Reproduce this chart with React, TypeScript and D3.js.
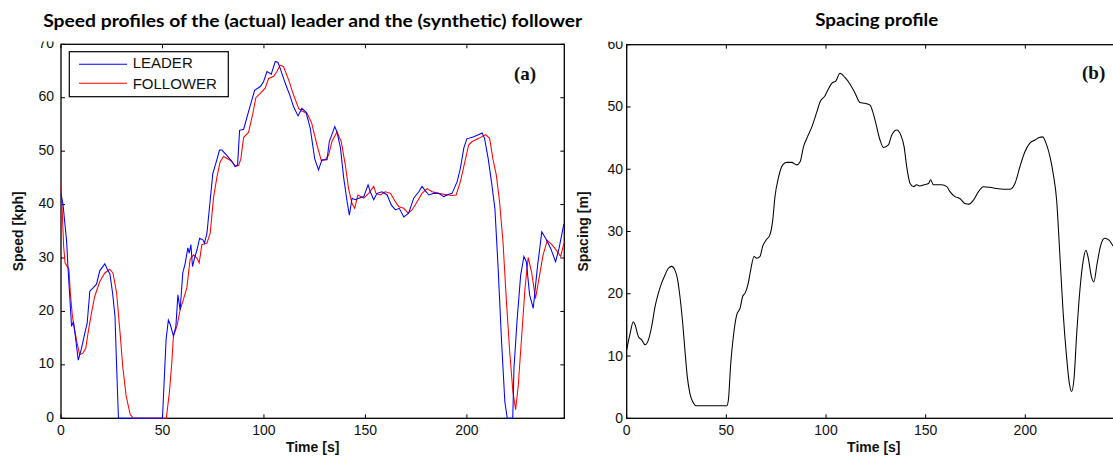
import React from "react";
import * as d3 from "d3";

const leaderTime = [0,1,2.8,3.4,4.3,5.2,6.1,6.9,7.7,8.5,10.1,11.7,12.9,14.2,15.8,17.5,19.1,21.6,22.8,24.1,25.4,26.6,27.4,28.3,50,50.8,51.8,52.9,53.8,55.4,56.6,57.6,58.7,60,61.2,62.5,63.2,64,64.8,65.8,67,68.3,69.9,70.7,71.9,73.5,74.8,76.5,78.1,79.3,81.7,84.2,85.8,87,88,90,92.4,95.4,98.2,99.8,101.5,103.6,105.6,106.9,108,110.5,113,114.6,116.8,118.7,120.7,122.8,125,126.9,128.6,131.1,132.2,134.9,136,137.7,139.3,141,142.1,143.4,145,146.7,149.2,151.3,152.4,154.1,155.7,158.2,160.7,162.8,164.8,166.7,168.9,171.3,173.8,176.3,177.9,179.3,181.2,183.7,186.1,188.6,190.8,192.7,195.2,196.8,198.5,200,203.4,205.9,207.5,208.7,210.5,212.1,213.8,215.4,217.1,218.7,219.9,222.6,223.2,224.8,226.5,228.1,229.3,230.9,232.7,234.7,236.9,238.8,241.3,243.7,245.4,247.8];
const leaderSpeed = [42,40,33,28.5,22.9,17.2,18.1,15.9,13.4,10.9,13.1,15.9,17.8,23.8,24.4,25.1,27.6,28.9,27.9,27,23.5,19.1,9.8,0,0,6.7,14.8,18.4,17.6,15.4,17.2,23.1,20.3,27.2,29,31.9,30.9,32.5,28.4,30,31.5,33.7,33.4,32.8,34.6,40.8,45.8,48,50.2,50.2,49.2,48.1,47.1,47.3,53.9,54.1,57.4,61.4,62.1,63,64.9,64.4,66.8,66.6,65.5,62.7,60.2,58.3,56.6,58,57.3,54.3,48.6,46.5,48.4,48.4,51.8,54.6,53.6,50.6,45,40.5,38,41.2,40.9,41.2,41.5,43.7,42.4,40.9,42.1,42.4,41.8,39.9,39,39.3,37.7,38.4,41.2,42.4,43.4,42.7,41.8,42.1,42.1,41.5,41.9,42.1,44.3,46.8,50.6,52.3,52.7,53.1,53.4,52.4,48.6,44.3,39.3,28.1,14.3,3.1,0,0,9.4,18.7,26.8,30.3,29.3,23.1,20.6,28.1,34.9,33.7,31.8,29.3,31.8,36.4];

const followerTime = [0,0.7,1.3,2,3.4,3.9,4.6,5.6,6.7,7.9,9.2,10.8,12.2,13.3,15,16.6,19.1,21.6,24,25.6,27.4,29.1,30.4,32.1,34.1,35.7,51.8,52.1,53.4,54.6,55.4,57.1,58.7,60.3,62,63.6,65.3,67,68.1,69.4,71.9,73.5,75.2,76.8,78.4,80.1,83.4,85.8,87.5,88.6,90,92.4,94.5,96,98.2,100.6,102.3,104.8,106.4,108,109.7,112.2,114.6,117.1,118.7,121.2,123.5,126.1,128.3,130.2,131.9,133.5,136,138.1,140.1,141.7,143.4,144.7,146.3,149.2,151.6,154.1,155.2,157.4,159.8,162.4,164.8,166.5,168.9,171,173,175.4,177.9,180.4,182.9,186.1,189.4,192.7,194.7,196.8,199,200.9,202.6,205.9,209.2,211.2,212.8,214.5,216.1,217.8,219.4,221.1,222.7,224,225.3,227,228.6,230.2,231.9,233.8,235.5,237.5,239.6,242.1,244.6,246.2,248];
const followerSpeed = [43.5,37.8,32.2,29.1,28.2,27.9,23.5,19.2,16.6,14.1,11.9,12.2,13.1,15.9,19.7,22.8,25.6,27.2,27.9,27.2,23.5,16,9.8,4.2,0.7,0,0,0.7,4.8,10.4,15.4,17.2,20.3,22.2,24.4,29.7,30.6,30,29.1,32.5,32.8,34.6,41.4,45.1,48,49,48.3,47.3,47.3,48.5,52.6,53.5,57,60,60.8,61.8,63.6,64,64.9,66.1,65.8,63.3,60.5,58,57.5,57.1,55.3,51.2,48.2,48.4,49.3,51.8,53.6,51.8,47.4,43,40.2,39.3,41.8,41.2,42.1,43.4,42.1,41.8,42.4,42.1,40.5,39.6,39.3,38.4,39,40.5,42.1,43,42.4,42.1,41.9,41.7,41.8,44.3,48,51.2,51.8,52.4,53.1,52.4,48.6,45.5,40.5,33,22.4,12.4,4.9,1.6,6.1,15.4,24.2,30.1,27.3,22.4,26.1,30.5,33.3,32.4,31.2,30.3,33];

const spacingTime = [0,1.7,3.3,4.2,5.9,7.5,9.2,10.9,12.5,14.2,15.9,17.5,19.2,20.9,22.6,24.2,25.4,26.7,28.1,29.2,30.4,31.7,33.4,35,50.2,51,52.2,53.5,55.2,56.9,58.2,59.4,61,62.2,63.9,65.2,66.9,68.2,69.9,71.9,73.3,74.4,76.1,78.3,80.3,82.8,85.3,87,88.7,90.7,92.9,95.4,97,99.5,101.2,102.9,105,107,109.6,112,114.6,117.1,119.6,122.1,124.6,127.1,128.8,131.3,133,135.5,137.5,139.2,140.5,142.2,143.9,145.5,147.2,149.2,151.4,152.5,153.9,155.9,158,160.6,162.2,164.7,167.2,169.7,171.9,173.9,176.5,179,182.3,185.9,189,192.4,194.8,197.3,199.8,202.3,204.9,207,208.7,210.7,212.4,214,215.7,217.4,219,220.7,222.1,223.2,224.4,225.7,227.4,229.1,230.4,231.5,233.2,234.4,236,237.7,239.8,242,243.8,246,248];
const spacingValue = [11,13.6,15.5,15,13.1,12.6,11.8,12.6,14.7,17.9,20.1,21.7,23,24.1,24.4,23.8,22.5,19.6,15.3,11,6.7,4,2.5,2,2,2.9,8.8,13.1,16.6,17.7,19.6,20.1,21.7,23.8,26,25.7,26,27.6,28.6,29.5,31.9,35.6,38.6,40.7,41.1,41.1,40.7,41.2,43.6,45.2,46.8,49.2,50.8,51.8,52.9,53.8,54.2,55.4,54.7,53.7,52.2,50.7,50.6,50.3,47.9,44.7,43.5,43.9,45.5,46.3,45.5,43.6,40.4,37.7,37.2,37.5,37.3,37.5,37.7,38.3,37.5,37.5,37.5,37.2,36.4,35.6,35.3,34.5,34.4,35,36.4,37.2,37.1,36.9,36.8,36.8,37.7,40.4,42.8,44.2,44.7,45.1,45.2,43.9,42,39.3,35.1,25.9,16.9,9.9,5.6,4.3,6.2,13.1,20.6,25.4,27,25.9,22.7,21.9,24.8,27.6,28.9,28.6,27.8,26.8,26];

const timeTicks = [0, 50, 100, 150, 200];
const speedTicks = [0, 10, 20, 30, 40, 50, 60, 70];
const spacingTicks = [0, 10, 20, 30, 40, 50, 60];
const seriesNames = ["LEADER", "FOLLOWER"];
const seriesColors = ["#0000ff", "#ff0000"];

const W = 1113;
const H = 459;
const SANS = "'Liberation Sans', Arial, sans-serif";
const TITLE = "Lato, 'Open Sans', sans-serif";
const SERIF = "'Liberation Serif', 'Times New Roman', serif";

type Pt = [number, number];
const zip = (a: number[], b: number[]): Pt[] => a.map((t, i) => [t, b[i]]);

function Frame({ x, y, xt, yt, lbl, dy }: { x: d3.ScaleLinear<number, number>; y: d3.ScaleLinear<number, number>; xt: number[]; yt: number[]; lbl: number; dy: number }) {
  const [x0, x1] = x.range();
  const [y0, y1] = y.range();
  const tl = 4;
  return (
    <g>
      <rect x={x0} y={y1} width={x1 - x0} height={y0 - y1} fill="none" stroke="#000" strokeWidth={1.3} />
      {xt.map((t) => (
        <g key={"x" + t}>
          <line x1={x(t)} x2={x(t)} y1={y0} y2={y0 - tl} stroke="#000" strokeWidth={1} />
          <line x1={x(t)} x2={x(t)} y1={y1} y2={y1 + tl} stroke="#000" strokeWidth={1} />
          <text x={x(t)} y={435} textAnchor="middle" fontFamily={SANS} fontSize={14} fill="#111">{t}</text>
        </g>
      ))}
      {yt.map((v) => (
        <g key={"y" + v}>
          <line x1={x0} x2={x0 + tl} y1={y(v)} y2={y(v)} stroke="#000" strokeWidth={1} />
          <line x1={x1} x2={x1 - tl} y1={y(v)} y2={y(v)} stroke="#000" strokeWidth={1} />
          <text x={lbl} y={y(v) + dy} textAnchor="end" fontFamily={SANS} fontSize={14} fill="#111">{v}</text>
        </g>
      ))}
    </g>
  );
}

export default function App() {
  const xL = d3.scaleLinear().domain([0, 248]).range([61, 564.3]);
  const yL = d3.scaleLinear().domain([0, 70]).range([418.3, 44.3]);
  const xR = d3.scaleLinear().domain([0, 248]).range([626.7, 626.7 + 248 * 1.993]);
  const yR = d3.scaleLinear().domain([0, 60]).range([418.3, 44.7]);

  const lineL = d3.line<Pt>().x((d) => xL(d[0])).y((d) => yL(d[1]));
  const lineR = d3.line<Pt>().x((d) => xR(d[0])).y((d) => yR(d[1])).curve(d3.curveMonotoneX);

  const leader = zip(leaderTime, leaderSpeed);
  const follower = zip(followerTime, followerSpeed);
  const spacing = zip(spacingTime, spacingValue);

  const cxL = (xL.range()[0] + xL.range()[1]) / 2;
  const cxR = (xR.range()[0] + xR.range()[1]) / 2;

  return (
    <svg width={W} height={H} viewBox={`0 0 ${W} ${H}`} style={{ position: "absolute", left: 0, top: 0, display: "block", background: "#fff" }}>
      <rect x={0} y={0} width={W} height={H} fill="#fff" />
      <Frame x={xL} y={yL} xt={timeTicks} yt={speedTicks} lbl={54} dy={3.5} />
      <Frame x={xR} y={yR} xt={timeTicks} yt={spacingTicks} lbl={623} dy={4.5} />

      <path d={lineL(follower) || ""} fill="none" stroke={seriesColors[1]} strokeWidth={1.05} />
      <path d={lineL(leader) || ""} fill="none" stroke={seriesColors[0]} strokeWidth={1.05} />
      <path d={lineR(spacing) || ""} fill="none" stroke="#000" strokeWidth={1.05} />

      {/* legend */}
      <rect x={69.3} y={51.7} width={159} height={45} fill="#fff" stroke="#000" strokeWidth={1.2} />
      {seriesNames.map((n, i) => (
        <g key={n}>
          <line x1={79} x2={127} y1={64.3 + i * 19} y2={64.3 + i * 19} stroke={seriesColors[i]} strokeWidth={1.05} />
          <text x={132.7} y={67.6 + i * 21} fontFamily={SANS} fontSize={15} fill="#111">{n}</text>
        </g>
      ))}

      <text x={514} y={80} fontFamily={SERIF} fontWeight="bold" fontSize={19} fill="#111">(a)</text>
      <text x={1082} y={79} fontFamily={SERIF} fontWeight="bold" fontSize={19} fill="#111">(b)</text>

      {/* axis labels */}
      <text x={cxL} y={451.7} textAnchor="middle" fontFamily={SANS} fontWeight="bold" fontSize={14} fill="#111">Time [s]</text>
      <text x={cxR} y={451.7} textAnchor="middle" fontFamily={SANS} fontWeight="bold" fontSize={14} fill="#111">Time [s]</text>
      <text transform={`translate(23,${(yL.range()[0] + yL.range()[1]) / 2}) rotate(-90)`} textAnchor="middle" fontFamily={SANS} fontWeight="bold" fontSize={14} fill="#111">Speed [kph]</text>
      <text transform={`translate(588,${(yR.range()[0] + yR.range()[1]) / 2}) rotate(-90)`} textAnchor="middle" fontFamily={SANS} fontWeight="bold" fontSize={14} fill="#111">Spacing [m]</text>

      {/* title band (clips the top tick labels as in the source) */}
      <rect x={0} y={0} width={W} height={41.5} fill="#fff" />
      <text x={312.7} y={26.7} textAnchor="middle" fontFamily={TITLE} fontWeight="bold" fontSize={16.5} textLength={539} lengthAdjust="spacingAndGlyphs" fill="#000">Speed profiles of the (actual) leader and the (synthetic) follower</text>
      <text x={876.7} y={26} textAnchor="middle" fontFamily={TITLE} fontWeight="bold" fontSize={16.5} textLength={123} lengthAdjust="spacingAndGlyphs" fill="#000">Spacing profile</text>
    </svg>
  );
}
